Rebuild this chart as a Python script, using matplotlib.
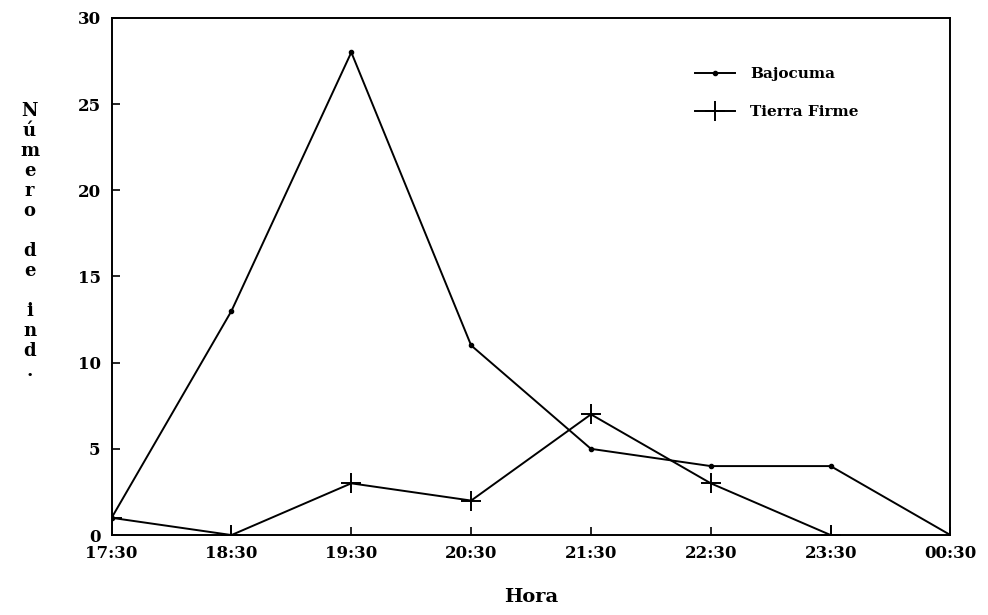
import numpy as np
import matplotlib.pyplot as plt

plt.rcParams['font.family'] = 'DejaVu Serif'
plt.rcParams['font.weight'] = 'bold'

horas = ["17:30", "18:30", "19:30", "20:30", "21:30", "22:30", "23:30", "00:30"]
bajocuma = [1, 13, 28, 11, 5, 4, 4, 0]
tierra_firme = [1, 0, 3, 2, 7, 3, 0]

fig = plt.figure(figsize=(9.88, 6.15), dpi=100)
ax = fig.add_axes([0.113, 0.130, 0.849, 0.841])

x = np.arange(len(horas))
ax.plot(x, bajocuma, color='black', lw=1.4, marker='o', ms=3, label='Bajocuma')
ax.plot(x[:len(tierra_firme)], tierra_firme, color='black', lw=1.4, marker='+',
        ms=14, mew=1.4, label='Tierra Firme')

ax.set_xlim(0, 7)
ax.set_ylim(0, 30)
ax.set_xticks(x)
ax.set_xticklabels(horas)
ax.set_yticks(np.arange(0, 31, 5))
ax.tick_params(direction='in', length=6, width=1.2, labelsize=12)
ax.tick_params(axis='x', pad=7)
ax.tick_params(axis='y', pad=8)
for lab in ax.get_xticklabels() + ax.get_yticklabels():
    lab.set_fontweight('bold')
for s in ax.spines.values():
    s.set_linewidth(1.4)

ax.set_xlabel('Hora', fontsize=14, fontweight='bold', labelpad=19)
ylab = "\n".join(list("Número de ind."))
fig.text(0.030, 0.608, ylab, fontsize=13, fontweight='bold', ha='center',
         va='center', linespacing=1.14)

leg = ax.legend(loc='upper left', bbox_to_anchor=(0.696, 0.905), frameon=False,
                handlelength=2.6, handletextpad=1.0, labelspacing=1.6,
                borderaxespad=0, borderpad=0,
                prop={'weight': 'bold', 'size': 11})

fig.savefig('out.png', dpi=100)
